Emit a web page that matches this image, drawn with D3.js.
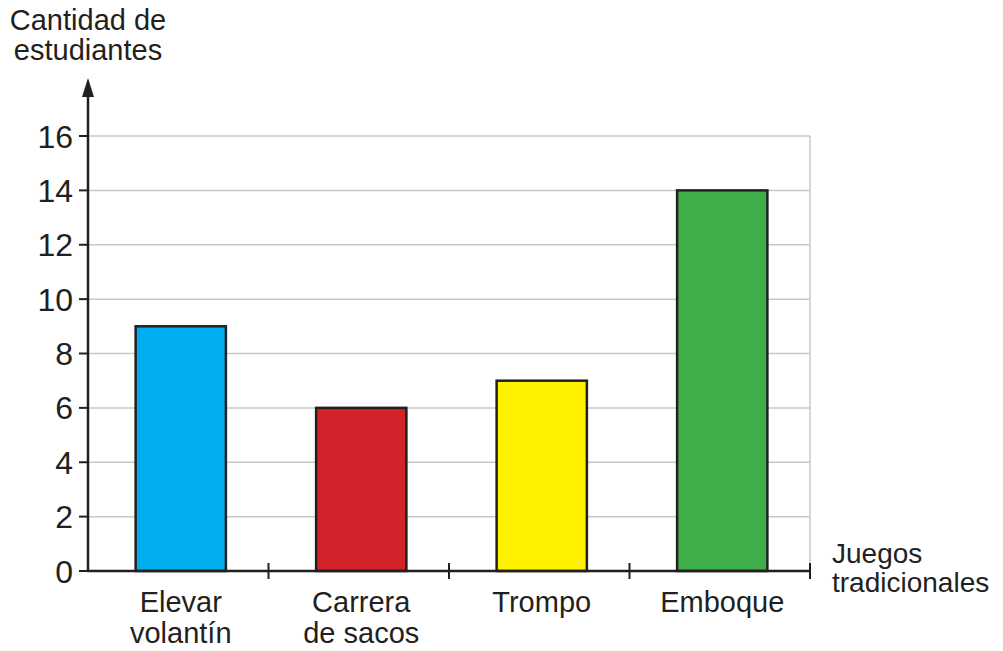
<!DOCTYPE html>
<html>
<head>
<meta charset="utf-8">
<script src="https://cdn.jsdelivr.net/npm/d3@7"></script>
<style>
  body { margin: 0; background: #fff; }
  text { font-family: "Liberation Sans", Arial, sans-serif; fill: #231f20; }
</style>
</head>
<body>
<script>
// data
var categories = [["Elevar", "volantín"], ["Carrera", "de sacos"], ["Trompo"], ["Emboque"]];
var values = [9, 6, 7, 14];
var colors = ["#00aeef", "#d2232a", "#fff200", "#3fae49"];
var yTicks = [0, 2, 4, 6, 8, 10, 12, 14, 16];

var width = 1003,
    height = 651,
    plotLeft = 88,
    plotRight = 810,
    plotTop = 136,
    plotBottom = 571,
    ink = "#231f20";

var svg = d3.select('body').append('svg')
    .attr('width', width)
    .attr('height', height);

var x = d3.scaleBand()
    .domain(d3.range(categories.length))
    .range([plotLeft + 2.5, plotRight + 2.5])
    .paddingInner(0.5)
    .paddingOuter(0.25);

var y = d3.scaleLinear()
    .domain([0, 16])
    .range([plotBottom, plotTop]);

// grid lines
svg.append('g').selectAll('line')
    .data(yTicks.filter(function(d){ return d > 0; }))
  .enter().append('line')
    .attr('x1', plotLeft).attr('x2', plotRight)
    .attr('y1', function(d){ return y(d); })
    .attr('y2', function(d){ return y(d); })
    .attr('stroke', '#c8c8c8')
    .attr('stroke-width', 1.5);

svg.append('line')
    .attr('x1', plotRight).attr('x2', plotRight)
    .attr('y1', y(16)).attr('y2', plotBottom)
    .attr('stroke', '#c8c8c8')
    .attr('stroke-width', 1.5);

// bars
svg.append('g').selectAll('rect')
    .data(values)
  .enter().append('rect')
    .attr('x', function(d, i){ return x(i); })
    .attr('width', x.bandwidth())
    .attr('y', function(d){ return y(d); })
    .attr('height', function(d){ return plotBottom - y(d); })
    .attr('fill', function(d, i){ return colors[i]; })
    .attr('stroke', ink)
    .attr('stroke-width', 2.5);

// y axis
var yAxis = svg.append('g');
yAxis.append('line')
    .attr('x1', plotLeft).attr('x2', plotLeft)
    .attr('y1', 92).attr('y2', plotBottom + 1)
    .attr('stroke', ink).attr('stroke-width', 2.5);
yAxis.append('path')
    .attr('d', 'M' + plotLeft + ',78 L' + (plotLeft - 6) + ',97 L' + (plotLeft + 6) + ',97 Z')
    .attr('fill', ink);
yAxis.selectAll('.tick')
    .data(yTicks)
  .enter().append('line')
    .attr('class', 'tick')
    .attr('x1', plotLeft - 9).attr('x2', plotLeft)
    .attr('y1', function(d){ return y(d); })
    .attr('y2', function(d){ return y(d); })
    .attr('stroke', ink).attr('stroke-width', 2);
yAxis.selectAll('.lbl')
    .data(yTicks)
  .enter().append('text')
    .attr('class', 'lbl')
    .attr('x', plotLeft - 15)
    .attr('y', function(d){ return y(d); })
    .attr('dy', '0.36em')
    .attr('text-anchor', 'end')
    .style('font-size', '32px')
    .text(function(d){ return d; });

// x axis
var xAxis = svg.append('g');
xAxis.append('line')
    .attr('x1', plotLeft - 1).attr('x2', plotRight + 1)
    .attr('y1', plotBottom).attr('y2', plotBottom)
    .attr('stroke', ink).attr('stroke-width', 2.5);
var step = (plotRight - plotLeft) / categories.length;
xAxis.selectAll('.tick')
    .data(d3.range(1, categories.length + 1))
  .enter().append('line')
    .attr('class', 'tick')
    .attr('x1', function(d){ return plotLeft + d * step; })
    .attr('x2', function(d){ return plotLeft + d * step; })
    .attr('y1', plotBottom - 8).attr('y2', plotBottom + 8)
    .attr('stroke', ink).attr('stroke-width', 2);

xAxis.selectAll('.cat')
    .data(categories)
  .enter().append('text')
    .attr('class', 'cat')
    .attr('text-anchor', 'middle')
    .style('font-size', '29px')
    .attr('transform', function(d, i){
      return 'translate(' + (x(i) + x.bandwidth() / 2) + ',612)';
    })
    .selectAll('tspan')
    .data(function(d){ return d; })
  .enter().append('tspan')
    .attr('x', 0)
    .attr('y', function(d, j){ return j * 31; })
    .text(function(d){ return d; });

// axis titles
var yTitle = svg.append('text')
    .attr('text-anchor', 'middle')
    .style('font-size', '29px');
yTitle.append('tspan').attr('x', plotLeft).attr('y', 30).text('Cantidad de');
yTitle.append('tspan').attr('x', plotLeft).attr('y', 60).text('estudiantes');

var xTitle = svg.append('text')
    .style('font-size', '28px');
xTitle.append('tspan').attr('x', 832).attr('y', 563).text('Juegos');
xTitle.append('tspan').attr('x', 832).attr('y', 592).text('tradicionales');
</script>
</body>
</html>
